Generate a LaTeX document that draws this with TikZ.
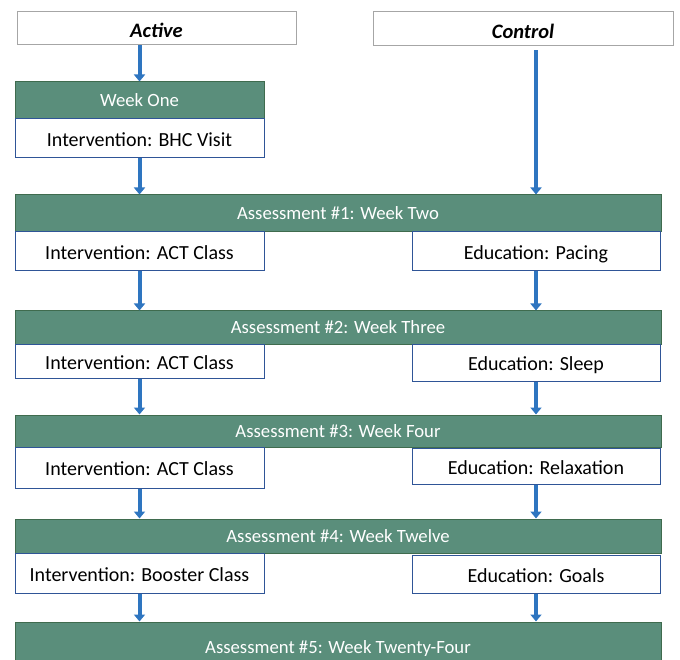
\documentclass[tikz,border=0pt]{standalone}
\usepackage{fontspec}
\setmainfont{Carlito}
\usetikzlibrary{arrows.meta}
\definecolor{phasefill}{HTML}{5A8E7B}
\definecolor{phaseedge}{HTML}{3F6B4E}
\definecolor{taskedge}{HTML}{2F5597}
\definecolor{armedge}{HTML}{A6A6A6}
\definecolor{flowblue}{HTML}{2E75C0}

\begin{document}
\begin{tikzpicture}[x=1pt,y=-1pt,font=\fontsize{20}{24}\selectfont,
  armhead/.style={draw=armedge, fill=white, line width=1pt, inner sep=0pt, text height=20pt, text depth=1.4pt, font=\fontsize{20.5}{24}\selectfont\bfseries\itshape},
  phase/.style={draw=phaseedge, fill=phasefill, text=white, line width=1pt, inner sep=0pt, text height=16pt, text depth=3.2pt, font=\fontsize{18.7}{22}\selectfont},
  task/.style={draw=taskedge, fill=white, line width=1pt, inner sep=0pt, text height=18pt, text depth=1.4pt},
  flow/.style={draw=flowblue, line width=4pt, -{Triangle[length=7pt,width=11pt]}}]
  \useasboundingbox (0,0) rectangle (680,660);

  % arm headers
  \node[armhead, minimum width=279pt, minimum height=33pt] (active)  at (156.5,28.5) {Active};
  \node[armhead, minimum width=300pt, minimum height=34pt] (control) at (523,29) {Control};

  % week one
  \node[phase, minimum width=249pt, minimum height=37pt] (wk1) at (139.5,100.5) {Week One};
  \node[task,  minimum width=249pt, minimum height=39pt] (bhc) at (139.5,138.5) {Intervention: BHC Visit};

  % assessments
  \node[phase, minimum width=646pt, minimum height=37pt] (as1) at (338,213.5) {Assessment \#1: Week Two};
  \node[phase, minimum width=646pt, minimum height=33pt] (as2) at (338,327.5) {Assessment \#2: Week Three};
  \node[phase, minimum width=646pt, minimum height=32pt] (as3) at (338,431) {Assessment \#3: Week Four};
  \node[phase, minimum width=646pt, minimum height=34pt] (as4) at (338,536) {Assessment \#4: Week Twelve};
  \node[phase, minimum width=646pt, minimum height=50pt] (as5) at (338,647) {Assessment \#5: Week Twenty-Four};

  % active arm
  \node[task, minimum width=249pt, minimum height=39pt] (act1)  at (139.5,251.5) {Intervention: ACT Class};
  \node[task, minimum width=249pt, minimum height=34pt] (act2)  at (139.5,361) {Intervention: ACT Class};
  \node[task, minimum width=249pt, minimum height=41pt] (act3)  at (139.5,467.5) {Intervention: ACT Class};
  \node[task, minimum width=249pt, minimum height=40pt] (boost) at (139.5,573) {Intervention: Booster Class};

  % control arm
  \node[task, minimum width=248pt, minimum height=39pt] (pace)  at (536,251.5) {Education: Pacing};
  \node[task, minimum width=248pt, minimum height=37pt] (sleep) at (536,362.5) {Education: Sleep};
  \node[task, minimum width=248pt, minimum height=36pt] (relax) at (536,466) {Education: Relaxation};
  \node[task, minimum width=248pt, minimum height=38pt] (goals) at (536,574) {Education: Goals};

  % arrows
  \draw[flow] (active.south -| wk1.north) -- (wk1.north);
  \draw[flow] (bhc.south) -- (bhc.south |- as1.north);
  \draw[flow, shorten <=4pt] (control.south -| pace.north) -- (pace.north |- as1.north);
  \foreach \from/\to in {act1/as2,act2/as3,act3/as4,boost/as5,pace/as2,sleep/as3,relax/as4,goals/as5}
    \draw[flow] (\from.south) -- (\from.south |- \to.north);
\end{tikzpicture}
\end{document}
